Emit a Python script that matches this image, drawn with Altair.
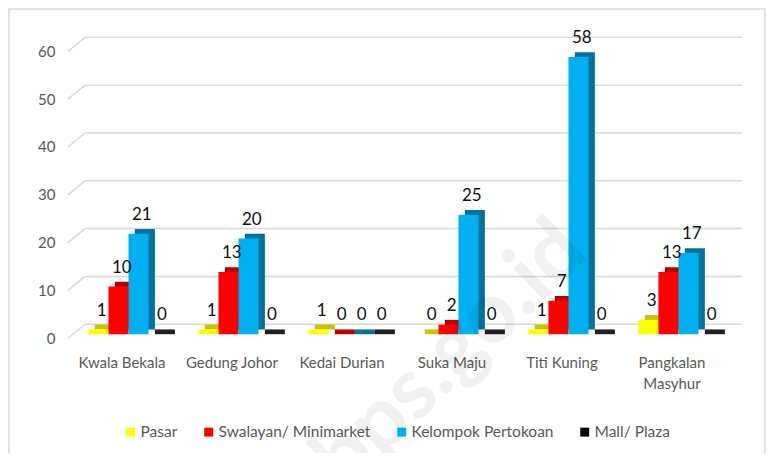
import altair as alt
import pandas as pd

categories = ["Kwala Bekala", "Gedung Johor", "Kedai Durian", "Suka Maju", "Titi Kuning", "Pangkalan Masyhur"]
series = ["Pasar", "Swalayan/ Minimarket", "Kelompok Pertokoan", "Mall/ Plaza"]
pasar = [1, 1, 1, 0, 1, 3]
swalayan = [10, 13, 0, 2, 7, 13]
kelompok = [21, 20, 0, 25, 58, 17]
mall = [0, 0, 0, 0, 0, 0]
front_colors = ["#FFFF00", "#FF0000", "#00B0F0", "#000000"]
dark_colors = ["#C4C400", "#B80000", "#00729E", "#202020"]
y_ticks = [0, 10, 20, 30, 40, 50, 60]

values = [pasar, swalayan, kelompok, mall]
rows = []
BW = 0.182
for si, s in enumerate(series):
    for ci, c in enumerate(categories):
        v = values[si][ci]
        xc = ci + (si - 1.5) * BW
        rows.append({
            "cat": c, "ci": ci, "series": s, "si": si, "value": v,
            "xl": xc - BW / 2, "xr": xc + BW / 2,
            "bxl": xc - BW / 2 + 0.058, "bxr": xc + BW / 2 + 0.058,
            "by0": 0 if v == 0 else 1.0, "by1": v + 1.0,
            "lx": xc + 0.03, "ly": v + 1.0,
            "dark": dark_colors[si],
        })
df = pd.DataFrame(rows)
grid = pd.DataFrame({"v": y_ticks})

XD = [-0.55, 5.605]
YD = [-1, 63]
xs = alt.Scale(domain=XD, nice=False, zero=False)
ys = alt.Scale(domain=YD, nice=False, zero=False)

base = alt.Chart(df)

label_expr = "[" + ",".join(
    ("['Pangkalan','Masyhur']" if c == "Pangkalan Masyhur" else "'" + c + "'") for c in categories
) + "][datum.value]"

x_axis = alt.Axis(values=list(range(6)), labelExpr=label_expr,
                  title=None, domain=False, ticks=False, grid=False,
                  labelFont="Lato", labelFontSize=15, labelColor="#595959",
                  labelPadding=16, labelOffset=-7, labelLineHeight=21)
y_axis = alt.Axis(values=y_ticks, title=None, domain=False, ticks=False,
                  grid=False, labelFont="Lato", labelFontSize=15,
                  labelColor="#595959", labelPadding=13, labelOffset=4)

gridlines = alt.Chart(grid).transform_calculate(
    x1="-0.395", x2="5.58", yb="datum.v + 2.09"
).mark_rule(color="#D9D9D9", strokeWidth=1.5).encode(
    x=alt.X("x1:Q", scale=xs, axis=x_axis),
    x2="x2:Q",
    y=alt.Y("yb:Q", scale=ys, axis=y_axis),
)

diag = alt.Chart(grid).transform_calculate(
    xa="-0.55", xb="-0.395", ya="datum.v - 0.84", yb="datum.v + 2.09"
).mark_rule(color="#D9D9D9", strokeWidth=1.5).encode(
    x=alt.X("xa:Q", scale=xs, axis=x_axis), x2="xb:Q",
    y=alt.Y("ya:Q", scale=ys, axis=y_axis), y2="yb:Q",
)

back = base.mark_rect().encode(
    x=alt.X("bxl:Q", scale=xs, axis=x_axis), x2="bxr:Q",
    y=alt.Y("by0:Q", scale=ys, axis=y_axis), y2="by1:Q",
    fill=alt.Fill("dark:N", scale=None),
)

front = base.transform_calculate(y0="0").mark_rect().encode(
    x=alt.X("xl:Q", scale=xs, axis=x_axis), x2="xr:Q",
    y=alt.Y("y0:Q", scale=ys, axis=y_axis), y2="value:Q",
    color=alt.Color("series:N", scale=alt.Scale(domain=series, range=front_colors),
                    sort=series,
                    legend=alt.Legend(title=None, orient="none", legendX=55, legendY=391,
                                      direction="horizontal", columns=4, symbolType="square",
                                      symbolSize=80, symbolStrokeWidth=0,
                                      labelFont="Lato", labelFontSize=15.5, labelColor="#595959",
                                      columnPadding=23, labelOffset=2, labelLimit=300)),
)

labels = base.mark_text(font="Lato", fontSize=17, color="#111111", baseline="bottom", dy=-5).encode(
    x=alt.X("lx:Q", scale=xs, axis=x_axis), y=alt.Y("ly:Q", scale=ys, axis=y_axis), text="value:Q",
)

watermark = alt.Chart(pd.DataFrame({"t": ["bps.go.id"]})).mark_text(
    font="Lato", fontSize=86, fontWeight="bold", color="#000000", opacity=0.05, angle=316
).encode(x=alt.value(382), y=alt.value(322), text="t:N")

border = alt.Chart(pd.DataFrame({"t": [0]})).mark_rect(
    fill=None, stroke="#D9D9D9", strokeWidth=1.5
).encode(x=alt.value(-59), x2=alt.value(697), y=alt.value(-24), y2=alt.value(421))

chart = alt.layer(border, gridlines, diag, back, front, labels, watermark).properties(
    width=677, height=306,
    background="#FFFFFF",
    autosize=alt.AutoSizeParams(type="none"),
    padding={"left": 60, "top": 25, "right": 21, "bottom": 114},
).configure_view(stroke=None)

chart.save("out.html", embed_options={"renderer": "svg", "actions": False})
